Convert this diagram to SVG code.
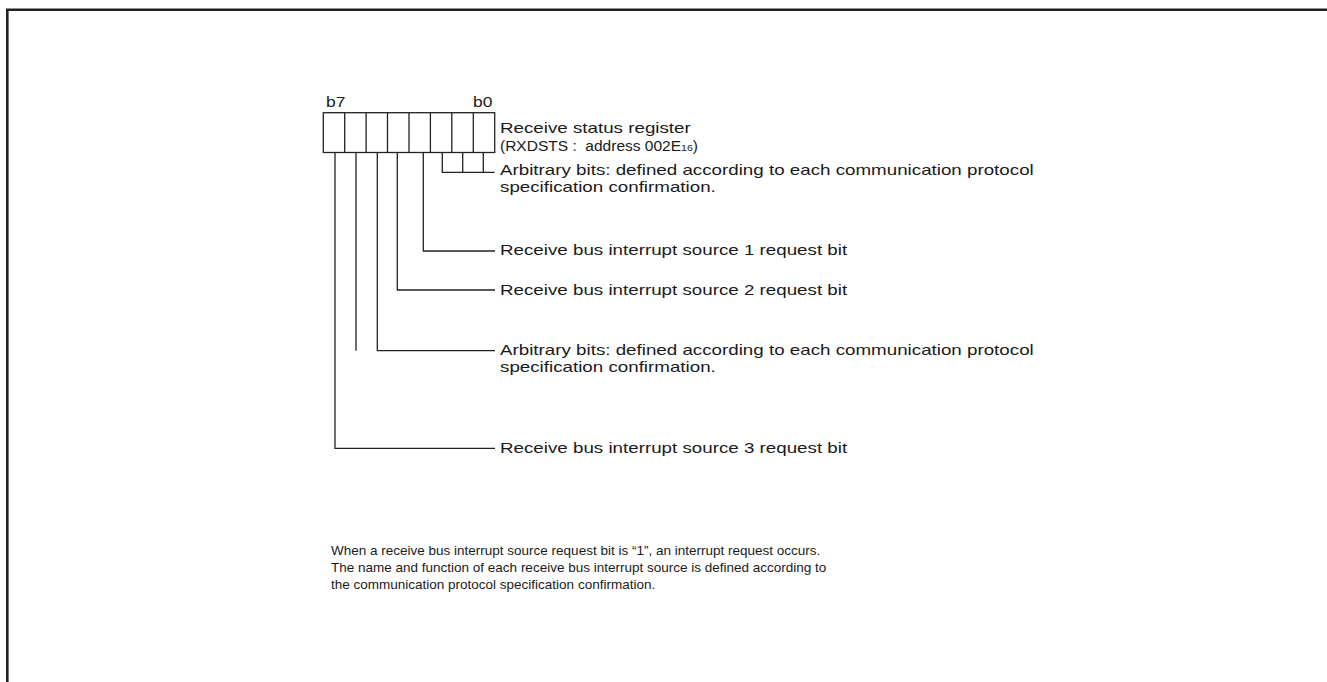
<svg xmlns="http://www.w3.org/2000/svg" width="1327" height="682" viewBox="0 0 1327 682">
<style>
.t{font-family:"Liberation Sans",Arial,sans-serif;font-size:14px;fill:#1a1a1a}
.n{font-size:13.5px}
.s{font-size:9.5px}
.ln{fill:none;stroke:#222;stroke-width:1.3}
.fr{fill:none;stroke:#222;stroke-width:2.6}
</style>
<rect width="1327" height="682" fill="#fff"/>
<path class="fr" d="M7.3,682 V9.8 H1327"/>
<g id="register">
<rect class="ln" x="323.3" y="112.7" width="171.4" height="39.8" fill="#fff"/>
<path class="ln" d="M344.7,112.7V152.5M366.1,112.7V152.5M387.5,112.7V152.5M409,112.7V152.5M430.4,112.7V152.5M451.8,112.7V152.5M473.3,112.7V152.5"/>
<text class="t" x="0" y="107" transform="translate(326,0) scale(1.25,1)">b7</text>
<text class="t" x="0" y="107" transform="translate(473,0) scale(1.25,1)">b0</text>
<g transform="translate(500,0) scale(1.34,1)">
<text class="t" x="0" y="133">Receive status register</text>
</g>
<text class="t" x="500" y="151" textLength="198" lengthAdjust="spacingAndGlyphs">(RXDSTS :&#160; address 002E<tspan class="s">16</tspan>)</text>
</g>
<g id="connectors">
<path class="ln" d="M442.3,152.5V172.3H494.7M462.7,152.5V172.3M483.3,152.5V172.3"/>
<path class="ln" d="M423.3,152.5V251H495"/>
<path class="ln" d="M397.3,152.5V290H495"/>
<path class="ln" d="M377.3,152.5V350.7H495M356,152.5V350.7"/>
<path class="ln" d="M335,152.5V448.3H495"/>
</g>
<g id="label-b2-b0" transform="translate(500,0) scale(1.34,1)">
<text class="t" x="0" y="175">Arbitrary bits: defined according to each communication protocol</text>
<text class="t" x="0" y="192">specification confirmation.</text>
</g>
<g id="label-b3" transform="translate(500,0) scale(1.34,1)">
<text class="t" x="0" y="255">Receive bus interrupt source 1 request bit</text>
</g>
<g id="label-b4" transform="translate(500,0) scale(1.34,1)">
<text class="t" x="0" y="295">Receive bus interrupt source 2 request bit</text>
</g>
<g id="label-b6-b5" transform="translate(500,0) scale(1.34,1)">
<text class="t" x="0" y="355">Arbitrary bits: defined according to each communication protocol</text>
<text class="t" x="0" y="372">specification confirmation.</text>
</g>
<g id="label-b7" transform="translate(500,0) scale(1.34,1)">
<text class="t" x="0" y="453">Receive bus interrupt source 3 request bit</text>
</g>
<g id="note">
<text class="t n" x="331" y="555">When a receive bus interrupt source request bit is “1”, an interrupt request occurs.</text>
<text class="t n" x="331" y="572">The name and function of each receive bus interrupt source is defined according to</text>
<text class="t n" x="331" y="589">the communication protocol specification confirmation.</text>
</g>
</svg>
